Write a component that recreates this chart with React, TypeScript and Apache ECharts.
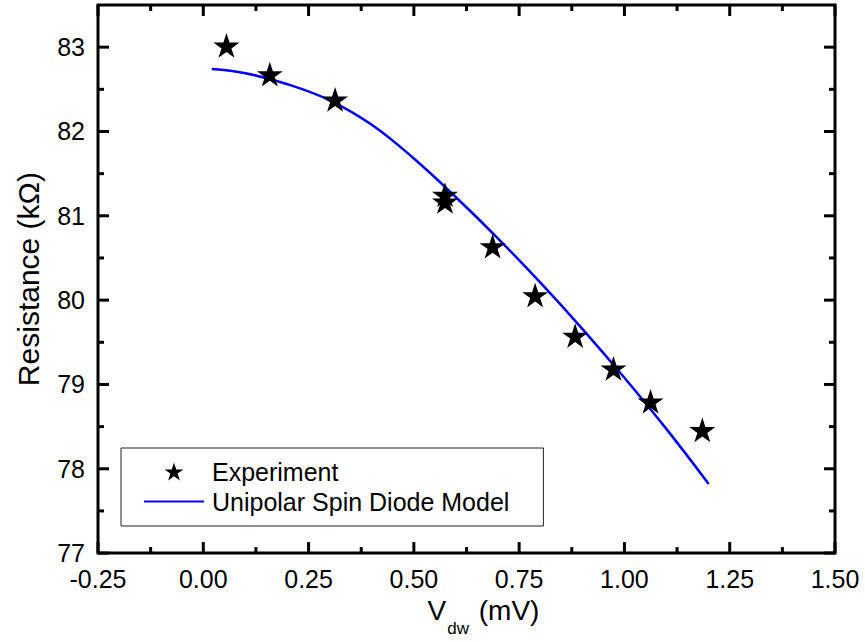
import React, { useEffect, useRef } from "react";
import * as echarts from "echarts";

const expX = [0.055, 0.158, 0.313, 0.574, 0.574, 0.687, 0.788, 0.883, 0.974, 1.062, 1.185];
const expY = [83.02, 82.68, 82.38, 81.25, 81.17, 80.64, 80.06, 79.58, 79.19, 78.8, 78.46];

const modelX = [0.02, 0.1, 0.2, 0.3, 0.4, 0.5, 0.6, 0.7, 0.8, 0.9, 1.0, 1.1, 1.2];
const modelY = [82.74, 82.69, 82.56, 82.37, 82.08, 81.68, 81.22, 80.73, 80.21, 79.66, 79.08, 78.47, 77.82];

const X_MIN = -0.25;
const X_MAX = 1.5;
const Y_MIN = 77;
const Y_MAX = 83.5;
const xMajorTicks = [-0.25, 0, 0.25, 0.5, 0.75, 1.0, 1.25, 1.5];
const xMinorTicks = [-0.125, 0.125, 0.375, 0.625, 0.875, 1.125, 1.375];
const yMajorTicks = [77, 78, 79, 80, 81, 82, 83];
const yMinorTicks = [77.5, 78.5, 79.5, 80.5, 81.5, 82.5];
const xTickLabels = ["-0.25", "0.00", "0.25", "0.50", "0.75", "1.00", "1.25", "1.50"];
const yTickLabels = ["77", "78", "79", "80", "81", "82", "83"];

const STAR =
  "path://M50 0 L61.23 34.55 L97.55 34.55 L68.16 55.9 L79.39 90.45 L50 69.1 L20.61 90.45 L31.84 55.9 L2.45 34.55 L38.77 34.55 Z";
const LINE_ICON = "path://M0 0 H60 V2 H0 Z";

const FONT = "'Liberation Sans', Arial, Helvetica, sans-serif";

// tick items: [x, y, kind (0 = x-axis tick, 1 = y-axis tick), isMajor]
const tickData: number[][] = [
  ...xMajorTicks.map((v) => [v, Y_MIN, 0, 1]),
  ...xMinorTicks.map((v) => [v, Y_MIN, 0, 0]),
  ...yMajorTicks.map((v) => [X_MIN, v, 1, 1]),
  ...yMinorTicks.map((v) => [X_MIN, v, 1, 0]),
];

export default function App() {
  const ref = useRef<HTMLDivElement>(null);
  useEffect(() => {
    if (!ref.current) return;
    const chart = echarts.init(ref.current, null, { renderer: "svg" });
    const tickStyle = { stroke: "#000", lineWidth: 3 };
    chart.setOption({
      animation: false,
      backgroundColor: "#fff",
      textStyle: { fontFamily: FONT },
      grid: {
        left: 98,
        right: 30,
        top: 5,
        bottom: 88,
        show: true,
        borderColor: "#000",
        borderWidth: 3,
        backgroundColor: "transparent",
      },
      xAxis: {
        type: "value",
        min: X_MIN,
        max: X_MAX,
        interval: 0.25,
        axisLine: { show: false, onZero: false },
        axisTick: { show: false },
        splitLine: { show: false },
        name: "{v|V}{s|dw}{v| (mV)}",
        nameLocation: "middle",
        nameGap: 42,
        nameTextStyle: {
          padding: [0, 0, 0, 34],
          rich: {
            v: { fontSize: 28, lineHeight: 32, color: "#000", fontFamily: FONT, verticalAlign: "top" },
            s: { fontSize: 17, lineHeight: 17, color: "#000", fontFamily: FONT, verticalAlign: "top", padding: [24, 2, 0, 1] },
          },
        },
        axisLabel: {
          show: true,
          color: "#000",
          fontSize: 25,
          fontFamily: FONT,
          margin: 13,
          formatter: (v: number) => {
            const i = xMajorTicks.findIndex((t) => Math.abs(t - v) < 1e-6);
            return i >= 0 ? xTickLabels[i] : "";
          },
        },
      },
      yAxis: {
        type: "value",
        min: Y_MIN,
        max: Y_MAX,
        interval: 1,
        axisLine: { show: false, onZero: false },
        axisTick: { show: false },
        splitLine: { show: false },
        name: "Resistance (kΩ)",
        nameLocation: "middle",
        nameGap: 55,
        nameTextStyle: { fontSize: 30, color: "#000", fontFamily: FONT },
        axisLabel: {
          show: true,
          color: "#000",
          fontSize: 25,
          fontFamily: FONT,
          margin: 13,
          showMaxLabel: false,
          formatter: (v: number) => {
            const i = yMajorTicks.findIndex((t) => Math.abs(t - v) < 1e-6);
            return i >= 0 ? yTickLabels[i] : "";
          },
        },
      },
      legend: {
        orient: "vertical",
        left: 121,
        top: 448,
        padding: [11, 34, 12, 23],
        itemGap: 5,
        itemWidth: 60,
        itemHeight: 18,
        borderColor: "#222",
        borderWidth: 1,
        borderRadius: 0,
        backgroundColor: "#fff",
        textStyle: { fontSize: 25, color: "#000", fontFamily: FONT, padding: [0, 0, 0, 3] },
        data: [
          { name: "Experiment" },
          { name: "Unipolar Spin Diode Model", icon: LINE_ICON },
        ],
      },
      series: [
        {
          name: "frameTicks",
          type: "custom",
          silent: true,
          z: 1,
          data: tickData,
          renderItem: (_params: any, api: any) => {
            const x = api.value(0);
            const y = api.value(1);
            const kind = api.value(2);
            const len = api.value(3) ? 11 : 6;
            if (kind === 0) {
              const b = api.coord([x, Y_MIN]);
              const t = api.coord([x, Y_MAX]);
              return {
                type: "group",
                children: [
                  { type: "line", shape: { x1: b[0], y1: b[1], x2: b[0], y2: b[1] - len }, style: tickStyle },
                  { type: "line", shape: { x1: t[0], y1: t[1], x2: t[0], y2: t[1] + len }, style: tickStyle },
                ],
              };
            }
            const l = api.coord([X_MIN, y]);
            const r = api.coord([X_MAX, y]);
            return {
              type: "group",
              children: [
                { type: "line", shape: { x1: l[0], y1: l[1], x2: l[0] + len, y2: l[1] }, style: tickStyle },
                { type: "line", shape: { x1: r[0], y1: r[1], x2: r[0] - len, y2: r[1] }, style: tickStyle },
              ],
            };
          },
        },
        {
          name: "Unipolar Spin Diode Model",
          type: "line",
          data: modelX.map((x, i) => [x, modelY[i]]),
          smooth: 0.4,
          symbol: "none",
          showSymbol: false,
          lineStyle: { color: "#0000ff", width: 2.5 },
          itemStyle: { color: "#0000ff" },
          z: 2,
        },
        {
          name: "Experiment",
          type: "scatter",
          data: expX.map((x, i) => [x, expY[i]]),
          symbol: STAR,
          symbolKeepAspect: true,
          symbolSize: 26,
          itemStyle: { color: "#000", opacity: 1 },
          z: 3,
        },
      ],
    });
    return () => chart.dispose();
  }, []);
  return (
    <div
      ref={ref}
      style={{ position: "fixed", left: 0, top: 0, width: 865, height: 642, background: "#fff" }}
    />
  );
}
